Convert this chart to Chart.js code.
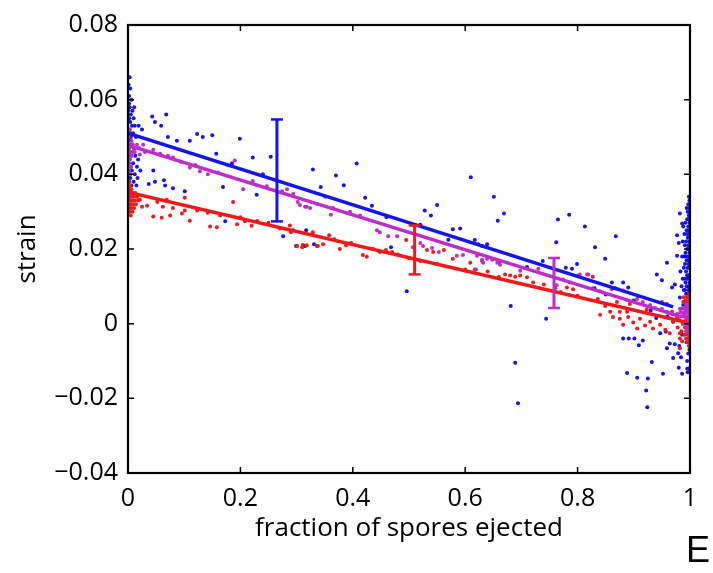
<!DOCTYPE html>
<html>
<head>
<meta charset="utf-8">
<script src="https://cdn.jsdelivr.net/npm/chart.js@4"></script>
<style>
  html, body { margin: 0; padding: 0; background: #fff; }
  #wrap { position: relative; width: 713px; height: 573px; }
  #panel { position: absolute; left: 686px; top: 532px; font-family: "Liberation Sans", Arial, sans-serif; font-size: 36px; color: #000; line-height: 1; }
</style>
</head>
<body>
<div id="wrap">
  <canvas id="c" width="713" height="573"></canvas>
  <div id="panel">E</div>
</div>
<script>
// ---------- DATA ----------
const xTickLabels = ['0', '0.2', '0.4', '0.6', '0.8', '1'];
const yTickLabels = ['\u22120.04', '\u22120.02', '0', '0.02', '0.04', '0.06', '0.08'];
const xTitle = 'fraction of spores ejected';
const yTitle = 'strain';

const bluePts = [
  [0.003,0.066],[0.004,0.063],[0.002,0.061],[0.006,0.060],[0.003,0.058],[0.008,0.057],[0.005,0.056],[0.002,0.055],
  [0.010,0.055],[0.004,0.054],[0.007,0.053],[0.012,0.053],[0.003,0.052],[0.009,0.051],[0.005,0.050],[0.014,0.050],
  [0.002,0.049],[0.008,0.048],[0.011,0.047],[0.004,0.046],[0.006,0.045],[0.013,0.045],[0.003,0.044],[0.009,0.043],
  [0.005,0.042],[0.016,0.042],[0.007,0.041],[0.002,0.040],[0.012,0.040],[0.004,0.039],[0.010,0.038],[0.006,0.037],
  [0.015,0.037],[0.003,0.036],[0.008,0.035],[0.018,0.044],[0.020,0.047],[0.022,0.041],[0.025,0.052],[0.019,0.053],
  [0.017,0.039],[0.001,0.064],[0.002,0.059],[0.001,0.057],[0.004,0.051],[0.001,0.047],[0.002,0.038],[0.011,0.058],
  [0.043,0.0555],[0.068,0.056],[0.048,0.054],[0.059,0.053],[0.123,0.0508],[0.133,0.050],[0.15,0.0505],[0.11,0.049],
  [0.087,0.049],[0.071,0.050],[0.157,0.0455],[0.199,0.0495],[0.185,0.043],[0.222,0.0445],[0.254,0.0447],[0.24,0.040],
  [0.329,0.0413],[0.045,0.041],[0.037,0.0374],[0.048,0.038],[0.064,0.0384],[0.066,0.037],[0.08,0.0363],[0.101,0.0355],
  [0.169,0.0366],[0.229,0.0345],[0.173,0.0274],[0.276,0.0234],[0.299,0.0208],[0.315,0.0208],[0.331,0.0213],[0.294,0.025],
  [0.37,0.0397],[0.407,0.0429],[0.343,0.0366],[0.384,0.0371],[0.422,0.0337],[0.434,0.0316],[0.317,0.025],[0.468,0.0205],
  [0.496,0.0087],[0.528,0.0303],[0.539,0.029],[0.55,0.0318],[0.61,0.0392],[0.578,0.0253],[0.591,0.0255],[0.617,0.0224],
  [0.623,0.0213],[0.63,0.0208],[0.639,0.0213],[0.651,0.034],[0.658,0.0276],[0.669,0.0295],[0.765,0.0279],[0.785,0.0292],
  [0.813,0.026],[0.868,0.0234],[0.831,0.0205],[0.849,0.0174],[0.762,0.0218],[0.799,0.016],[0.779,0.015],[0.79,0.0147],
  [0.738,0.0168],[0.681,0.0047],[0.744,0.0013],[0.689,-0.0105],[0.694,-0.0213],[0.888,-0.0132],[0.906,-0.0145],[0.922,-0.0179],
  [0.924,-0.0224],[0.925,-0.0147],[0.881,-0.004],[0.891,-0.004],[0.901,-0.004],[0.916,-0.0045],[0.909,-0.0058],[0.932,-0.0103],
  [0.952,-0.0134],[0.97,-0.0092],[0.98,-0.0118],[0.986,-0.0134],[0.995,-0.0121],[0.959,-0.0066],[0.964,-0.0053],[0.973,-0.0055],
  [0.979,-0.0079],[0.957,-0.0021],[0.947,-0.0026],[0.881,0.011],[0.89,0.0097],[0.861,0.011],[0.867,0.0095],[0.941,0.0132],
  [0.95,0.0116],[0.959,0.0163],[0.968,0.0097],[0.973,0.0105],[0.977,0.0182],[0.98,0.0216],[0.986,0.0268],[0.982,0.0295],
  [0.977,0.0237],[0.46,0.0285],[0.52,0.0265],[0.57,0.0225],[0.66,0.0165],[0.71,0.0152],[0.83,0.0095],[0.85,0.0078],
  [0.90,0.0062],[0.93,0.0035],[0.94,0.0015],[0.96,0.002],[0.97,0.0005],
  [0.998,0.034],[0.997,0.032],[0.999,0.031],[0.996,0.030],[0.998,0.029],[0.995,0.028],[0.999,0.027],[0.997,0.026],
  [0.994,0.025],[0.998,0.024],[0.996,0.023],[0.999,0.022],[0.993,0.022],[0.997,0.021],[0.995,0.020],[0.999,0.019],
  [0.992,0.019],[0.996,0.018],[0.998,0.017],[0.994,0.017],[0.991,0.016],[0.997,0.015],[0.999,0.015],[0.993,0.014],
  [0.995,0.013],[0.998,0.013],[0.990,0.012],[0.996,0.012],[0.992,0.011],[0.999,0.011],[0.994,0.010],[0.997,0.009],
  [0.989,0.009],[0.993,0.008],[0.998,0.008],[0.995,0.007],[0.991,0.006],[0.999,0.006],[0.996,0.005],[0.988,0.005],
  [0.993,0.004],[0.997,0.003],[0.990,0.002],[0.995,0.001],[0.999,0.000],[0.992,-0.001],[0.996,-0.002],[0.998,-0.004],
  [0.994,-0.005],[0.999,-0.007],[0.997,-0.008],[0.995,-0.010],[0.998,-0.012],[0.996,-0.013],[0.985,0.010],[0.983,0.014],
  [0.986,0.018],[0.982,0.007],[0.987,0.022],[0.984,0.004],[0.988,0.026],[0.986,-0.003],[0.981,-0.006],[0.984,-0.009],
  [0.999,0.033],[0.998,0.030],[0.997,0.028],[0.999,0.025],[0.998,0.020],[0.999,0.018],[0.997,0.016],[0.999,0.013],
  [0.991,0.021],[0.989,0.015],[0.987,0.012],[0.990,0.024],[0.994,0.031],[0.992,0.027],[0.995,0.024],[0.993,0.018],
  [0.996,0.015],[0.994,0.012],[0.991,0.009],[0.997,0.010],[0.992,0.006],[0.990,0.018]
];

const redPts = [
  [0.002,0.038],[0.004,0.037],[0.001,0.036],[0.006,0.036],[0.003,0.035],[0.008,0.035],[0.002,0.034],[0.005,0.034],
  [0.010,0.034],[0.003,0.033],[0.007,0.033],[0.012,0.033],[0.001,0.032],[0.004,0.032],[0.009,0.032],[0.002,0.031],
  [0.006,0.031],[0.014,0.032],[0.003,0.030],[0.008,0.030],[0.011,0.031],[0.016,0.034],[0.018,0.033],[0.005,0.029],
  [0.001,0.037],[0.002,0.033],[0.006,0.033],[0.013,0.035],
  [0.025,0.0313],[0.045,0.0287],[0.06,0.0284],[0.075,0.029],[0.096,0.0295],[0.11,0.0276],[0.146,0.026],[0.158,0.0258],
  [0.187,0.0326],[0.194,0.0266],[0.208,0.0274],[0.288,0.0263],[0.301,0.0208],[0.311,0.0211],[0.336,0.0208],[0.034,0.0316],
  [0.052,0.0326],[0.062,0.0313],[0.08,0.031],[0.101,0.0303],[0.123,0.0303],[0.142,0.0297],[0.164,0.029],[0.069,0.0332],
  [0.101,0.0337],[0.021,0.0332],[0.2,0.0285],[0.23,0.0275],[0.25,0.027],[0.27,0.0255],[0.29,0.0245],[0.22,0.0262],
  [0.31,0.0205],[0.318,0.021],[0.329,0.0245],[0.338,0.0208],[0.347,0.0213],[0.358,0.0237],[0.367,0.0226],[0.377,0.020],
  [0.388,0.021],[0.397,0.0216],[0.418,0.0184],[0.425,0.0179],[0.436,0.020],[0.448,0.0192],[0.459,0.0197],[0.47,0.0192],
  [0.495,0.0224],[0.532,0.0197],[0.543,0.0192],[0.562,0.0197],[0.578,0.0174],[0.609,0.0163],[0.619,0.0145],[0.63,0.0168],
  [0.48,0.0185],[0.50,0.0175],[0.52,0.0168],[0.55,0.016],[0.60,0.0145],[0.64,0.014],[0.66,0.0125],[0.74,0.0105],
  [0.76,0.0095],[0.77,0.0085],[0.80,0.0075],
  [0.671,0.0132],[0.68,0.0129],[0.689,0.0126],[0.698,0.0129],[0.71,0.0124],[0.721,0.011],[0.801,0.0129],[0.817,0.0132],
  [0.827,0.0126],[0.792,0.0092],[0.781,0.0097],[0.836,0.0066],[0.849,0.0047],[0.858,0.0032],[0.863,0.0018],[0.875,0.0013],
  [0.881,-0.0003],[0.89,0.0018],[0.899,0.0003],[0.906,-0.0013],[0.911,0.0013],[0.92,-0.0005],[0.929,0.0005],[0.934,-0.0013],
  [0.947,-0.0003],[0.956,-0.0016],[0.964,-0.0026],[0.97,0.0005],[0.87,0.0058],[0.875,0.0032],[0.888,0.0032],[0.84,0.0024],
  [0.893,0.0053],[0.923,0.0037],[0.95,0.0058],[0.959,0.0053],[0.968,0.0032],[0.977,0.0018],[0.982,-0.0026],[0.986,-0.0047],
  [0.982,-0.0066],[0.988,0.0058],[0.989,0.0071],
  [0.999,0.008],[0.997,0.007],[0.995,0.006],[0.999,0.005],[0.993,0.005],[0.997,0.004],[0.991,0.004],[0.999,0.003],
  [0.995,0.003],[0.989,0.002],[0.997,0.002],[0.993,0.001],[0.999,0.001],[0.987,0.000],[0.995,0.000],[0.991,-0.001],
  [0.998,-0.001],[0.994,-0.002],[0.985,-0.002],[0.999,-0.003],[0.996,-0.003],[0.990,-0.003],[0.998,-0.004],[0.993,-0.004],
  [0.999,-0.005],[0.996,-0.005],[0.998,-0.006],[0.983,0.003],[0.980,0.001],[0.978,-0.001],[0.982,-0.004],[0.999,-0.002],
  [0.997,0.000],[0.992,0.006],[0.996,0.007]
];

const magentaPts = [
  [0.002,0.052],[0.004,0.051],[0.001,0.050],[0.006,0.049],[0.003,0.048],[0.008,0.048],[0.002,0.047],[0.005,0.046],
  [0.001,0.045],[0.007,0.045],[0.003,0.044],[0.002,0.043],[0.005,0.042],[0.001,0.041],[0.004,0.040],[0.010,0.047],
  [0.012,0.046],[0.001,0.048],[0.003,0.046],
  [0.009,0.046],[0.027,0.0479],[0.03,0.046],[0.045,0.0466],[0.057,0.0455],[0.071,0.045],[0.08,0.0445],[0.094,0.0434],
  [0.11,0.0418],[0.128,0.0408],[0.142,0.040],[0.176,0.0426],[0.19,0.0437],[0.205,0.036],[0.222,0.0382],[0.229,0.0371],
  [0.247,0.0368],[0.274,0.0355],[0.283,0.036],[0.294,0.0347],[0.302,0.0326],[0.315,0.0313],[0.324,0.031],[0.336,0.0321],
  [0.016,0.0479],[0.021,0.0453],[0.16,0.0405],[0.12,0.0425],
  [0.306,0.0318],[0.318,0.0313],[0.351,0.034],[0.361,0.0292],[0.365,0.031],[0.395,0.030],[0.413,0.029],[0.443,0.025],
  [0.448,0.0245],[0.463,0.0234],[0.479,0.0234],[0.507,0.0205],[0.52,0.0216],[0.525,0.0208],[0.541,0.0203],[0.553,0.0192],
  [0.585,0.0182],[0.596,0.0184],[0.617,0.0145],[0.621,0.0182],[0.63,0.0171],[0.639,0.0174],[0.648,0.0171],[0.657,0.0163],
  [0.632,0.0163],[0.662,0.0158],[0.698,0.0142],[0.73,0.0147],[0.804,0.0132],[0.819,0.0132],[0.861,0.0092],[0.872,0.0092],
  [0.881,0.0089],[0.906,0.0066],[0.916,0.0058],[0.929,0.005],[0.938,0.0042],[0.95,0.0039],[0.959,0.0032],[0.968,0.0026],
  [0.977,0.0026],[0.774,0.0118],[0.786,0.011],[0.763,0.0103],[0.827,0.0095],[0.84,0.0087],
  [0.999,0.006],[0.997,0.005],[0.994,0.005],[0.999,0.004],[0.996,0.004],[0.991,0.004],[0.998,0.003],[0.993,0.003],
  [0.988,0.003],[0.999,0.002],[0.995,0.002],[0.990,0.002],[0.997,0.001],[0.992,0.001],[0.986,0.002],[0.999,0.000],
  [0.994,0.000],[0.989,0.000],[0.996,-0.001],[0.998,-0.002],[0.993,-0.002],[0.999,-0.003],[0.984,0.003],[0.982,0.004],
  [0.998,0.001],[0.995,-0.001],[0.991,0.003],[0.997,0.003]
];

const blueFit = [[0, 0.0510], [0.97, 0.0045]];
const magentaFit = [[0, 0.0478], [0.985, 0.0018]];
const redFit = [[0, 0.0352], [0.995, 0.0003]];

const errX = [0.265, 0.51, 0.758];
const errLow = [0.0274, 0.0132, 0.0042];
const errHigh = [0.0547, 0.0263, 0.0176];

// ---------- STYLES ----------
const C_BLUE = 'rgb(20,20,235)';
const C_RED = 'rgb(240,25,25)';
const C_MAG = 'rgb(190,45,200)';
const FONT = '"Open Sans", "DejaVu Sans", sans-serif';

const toXY = arr => arr.map(p => ({x: p[0], y: p[1]}));

function scatterDs(pts, color, order) {
  return { data: toXY(pts), backgroundColor: color, borderColor: color, pointRadius: 2,
           pointBorderWidth: 0, showLine: false, order: order };
}
function fitDs(pts, color, order) {
  return { data: toXY(pts), borderColor: color, backgroundColor: color, borderWidth: 3.5,
           pointRadius: 0, showLine: true, order: order };
}
function errDs(i, color) {
  return { data: [{x: errX[i], y: errLow[i]}, {x: errX[i], y: errHigh[i]}], borderColor: color,
           backgroundColor: color, borderWidth: 3, showLine: true, pointStyle: 'line', pointRadius: 6,
           pointBorderWidth: 2.5, pointBorderColor: color, order: 1 };
}

const boxPlugin = {
  id: 'box',
  afterDatasetsDraw(chart) {
    const {ctx, chartArea: a, scales: {x, y}} = chart;
    ctx.save();
    ctx.strokeStyle = '#000';
    ctx.lineWidth = 1.5;
    const L = 6;
    ctx.beginPath();
    for (let i = 1; i < xTickLabels.length - 1; i++) {
      const px = x.getPixelForValue(parseFloat(xTickLabels[i]));
      ctx.moveTo(px, a.bottom); ctx.lineTo(px, a.bottom - L);
      ctx.moveTo(px, a.top); ctx.lineTo(px, a.top + L);
    }
    for (let i = 1; i < yTickLabels.length - 1; i++) {
      const py = y.getPixelForValue(parseFloat(yTickLabels[i].replace('\u2212', '-')));
      ctx.moveTo(a.left, py); ctx.lineTo(a.left + L, py);
      ctx.moveTo(a.right, py); ctx.lineTo(a.right - L, py);
    }
    ctx.stroke();
    ctx.lineWidth = 2.2;
    ctx.strokeRect(a.left, a.top, a.right - a.left, a.bottom - a.top);
    ctx.restore();
  }
};

new Chart(document.getElementById('c'), {
  type: 'scatter',
  data: {
    datasets: [
      scatterDs(bluePts, C_BLUE, 10),
      scatterDs(redPts, C_RED, 9),
      scatterDs(magentaPts, C_MAG, 8),
      fitDs(redFit, C_RED, 7),
      fitDs(blueFit, C_BLUE, 6),
      fitDs(magentaFit, C_MAG, 5),
      errDs(0, C_BLUE),
      errDs(1, C_RED),
      errDs(2, C_MAG)
    ]
  },
  options: {
    responsive: false,
    animation: false,
    layout: { padding: { top: 18, right: 23, left: 3, bottom: 29 } },
    plugins: { legend: { display: false }, tooltip: { enabled: false } },
    scales: {
      x: {
        type: 'linear', min: 0, max: 1,
        afterFit: s => { s.height = 71; },
        afterBuildTicks: s => { s.ticks = xTickLabels.map(v => ({value: parseFloat(v)})); },
        ticks: { callback: (v, i) => xTickLabels[i], color: '#000', font: { family: FONT, size: 25 }, padding: 11, maxRotation: 0 },
        grid: { display: false, drawTicks: false },
        border: { display: false },
        title: { display: true, text: xTitle, color: '#000', font: { family: FONT, size: 26 }, padding: 0 }
      },
      y: {
        type: 'linear', min: -0.04, max: 0.08,
        afterFit: s => { s.width = 125; },
        afterBuildTicks: s => { s.ticks = yTickLabels.map(v => ({value: parseFloat(v.replace('\u2212', '-'))})); },
        ticks: { callback: (v, i) => yTickLabels[i], color: '#000', font: { family: FONT, size: 25 }, padding: 10 },
        grid: { display: false, drawTicks: false },
        border: { display: false },
        title: { display: true, text: yTitle, color: '#000', font: { family: FONT, size: 26 }, padding: { top: 9, bottom: 0 } }
      }
    }
  },
  plugins: [boxPlugin]
});
</script>
</body>
</html>
